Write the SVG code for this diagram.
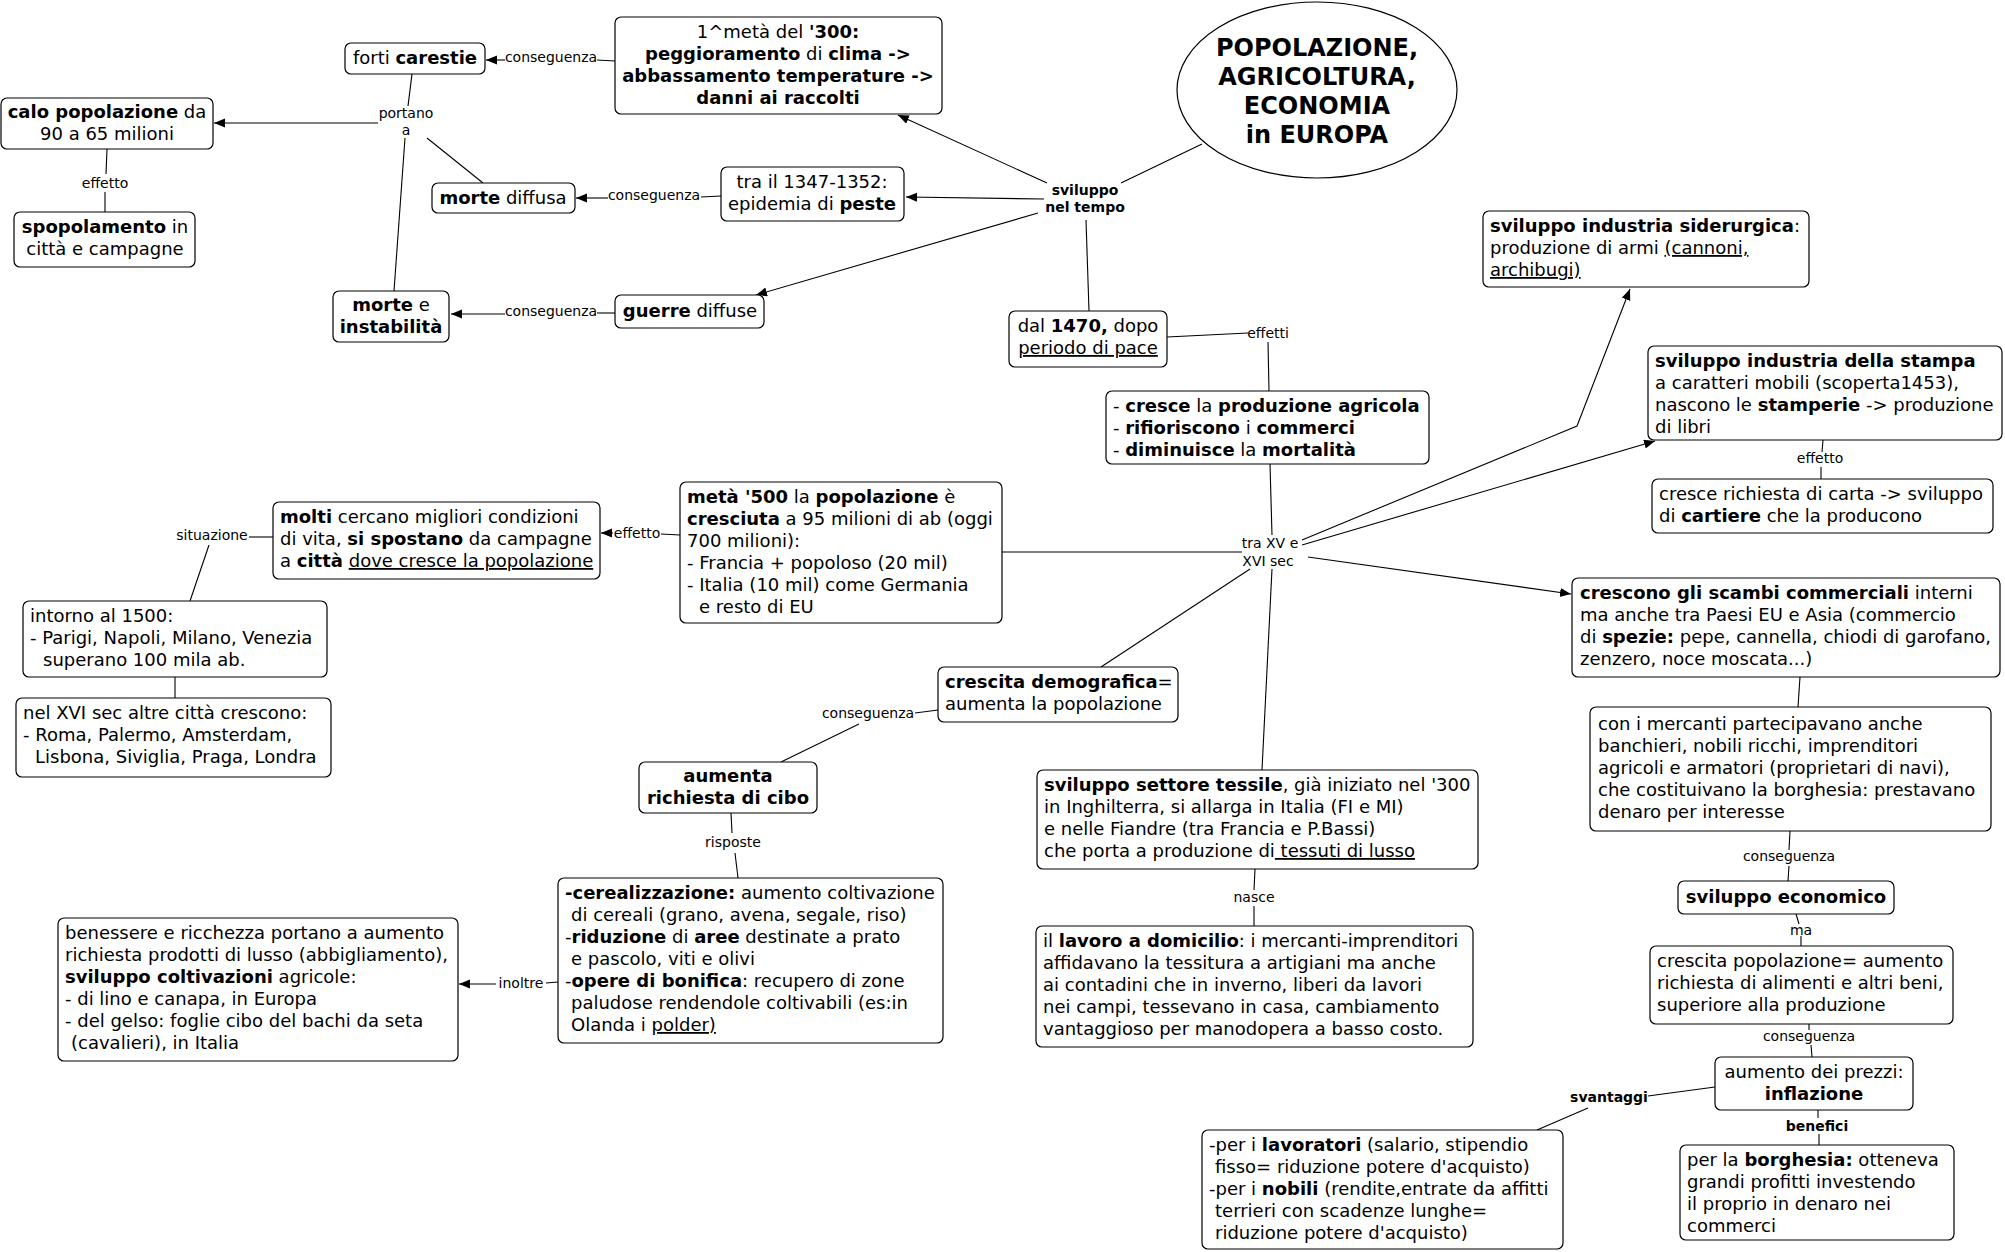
<svg xmlns="http://www.w3.org/2000/svg" width="2005" height="1252" viewBox="0 0 2005 1252">
<defs>
<marker id="arr" markerUnits="userSpaceOnUse" markerWidth="12" markerHeight="10" refX="11" refY="4.5" orient="auto">
<path d="M0,0 L11,4.5 L0,9 z" fill="#000"/>
</marker>
<style>
text{font-family:"DejaVu Sans",Verdana,sans-serif;font-size:18px;fill:#000}
.c{text-anchor:middle}
.b{font-weight:bold}
.u{text-decoration:underline}
.lbl{font-size:14px;text-anchor:middle}
.lb{font-size:14px;text-anchor:middle;font-weight:bold}
.title{font-size:24px;font-weight:bold;text-anchor:middle}
rect{fill:#fff;stroke:#000;stroke-width:1.2}
ellipse{fill:#fff;stroke:#000;stroke-width:1.2}
.ln{fill:none;stroke:#000;stroke-width:1.1}
.ar{fill:none;stroke:#000;stroke-width:1.1;marker-end:url(#arr)}
</style>
</defs>
<rect x="0" y="0" width="2005" height="1252" style="fill:#fff;stroke:none"/>

<g id="connectors">
<line class="ln" x1="615" y1="61" x2="597" y2="60"/>
<line class="ar" x1="505" y1="60" x2="486" y2="60"/>
<text class="lbl" x="551" y="62">conseguenza</text>
<line class="ln" x1="412" y1="74" x2="408" y2="106"/>
<line class="ar" x1="378" y1="123" x2="214" y2="123"/>
<line class="ln" x1="405" y1="138" x2="394" y2="291"/>
<line class="ln" x1="427" y1="138" x2="483" y2="183"/>
<text class="lbl" x="406" y="118">portano</text>
<text class="lbl" x="406" y="135">a</text>
<line class="ln" x1="107" y1="149" x2="106" y2="174"/>
<line class="ln" x1="105" y1="192" x2="105" y2="212"/>
<text class="lbl" x="105" y="188">effetto</text>
<line class="ln" x1="721" y1="196" x2="701" y2="197"/>
<line class="ar" x1="608" y1="198" x2="576" y2="198"/>
<text class="lbl" x="654" y="200">conseguenza</text>
<line class="ln" x1="615" y1="313" x2="597" y2="313"/>
<line class="ar" x1="505" y1="314" x2="451" y2="314"/>
<text class="lbl" x="551" y="316">conseguenza</text>
<line class="ln" x1="1202" y1="144" x2="1121" y2="183"/>
<line class="ar" x1="1047" y1="183" x2="898" y2="115"/>
<line class="ar" x1="1044" y1="199" x2="906" y2="197"/>
<line class="ar" x1="1038" y1="213" x2="756" y2="295"/>
<line class="ln" x1="1086" y1="220" x2="1089" y2="311"/>
<text class="lb" x="1085" y="195">sviluppo</text>
<text class="lb" x="1085" y="212">nel tempo</text>
<line class="ln" x1="1167" y1="337" x2="1248" y2="333"/>
<line class="ln" x1="1268" y1="342" x2="1269" y2="391"/>
<text class="lbl" x="1268" y="338">effetti</text>
<line class="ln" x1="1270" y1="464" x2="1272" y2="535"/>
<line class="ln" x1="1242" y1="552" x2="1002" y2="552"/>
<polyline class="ar" points="1302,540 1577,426 1630,289"/>
<line class="ar" x1="1302" y1="545" x2="1655" y2="441"/>
<line class="ar" x1="1308" y1="557" x2="1571" y2="594"/>
<line class="ln" x1="1250" y1="569" x2="1101" y2="667"/>
<line class="ln" x1="1272" y1="569" x2="1262" y2="770"/>
<text class="lbl" x="1270" y="548">tra XV e</text>
<text class="lbl" x="1268" y="566">XVI sec</text>
<line class="ln" x1="680" y1="535" x2="661" y2="534"/>
<line class="ar" x1="613" y1="533" x2="601" y2="533"/>
<text class="lbl" x="637" y="538">effetto</text>
<line class="ln" x1="273" y1="537" x2="249" y2="537"/>
<line class="ln" x1="209" y1="545" x2="190" y2="601"/>
<text class="lbl" x="212" y="540">situazione</text>
<line class="ln" x1="175" y1="677" x2="175" y2="698"/>
<line class="ln" x1="938" y1="710" x2="915" y2="713"/>
<line class="ln" x1="859" y1="724" x2="781" y2="762"/>
<text class="lbl" x="868" y="718">conseguenza</text>
<line class="ln" x1="731" y1="813" x2="732" y2="833"/>
<line class="ln" x1="735" y1="853" x2="738" y2="878"/>
<text class="lbl" x="733" y="847">risposte</text>
<line class="ln" x1="558" y1="982" x2="546" y2="983"/>
<line class="ar" x1="496" y1="984" x2="459" y2="984"/>
<text class="lbl" x="521" y="988">inoltre</text>
<line class="ln" x1="1255" y1="869" x2="1254" y2="890"/>
<line class="ln" x1="1254" y1="906" x2="1254" y2="926"/>
<text class="lbl" x="1254" y="902">nasce</text>
<line class="ln" x1="1823" y1="440" x2="1822" y2="452"/>
<line class="ln" x1="1821" y1="467" x2="1821" y2="479"/>
<text class="lbl" x="1820" y="463">effetto</text>
<line class="ln" x1="1800" y1="677" x2="1798" y2="707"/>
<line class="ln" x1="1790" y1="831" x2="1789" y2="850"/>
<line class="ln" x1="1789" y1="866" x2="1788" y2="881"/>
<text class="lbl" x="1789" y="861">conseguenza</text>
<line class="ln" x1="1796" y1="914" x2="1799" y2="924"/>
<line class="ln" x1="1801" y1="936" x2="1801" y2="946"/>
<text class="lbl" x="1801" y="935">ma</text>
<line class="ln" x1="1809" y1="1024" x2="1809" y2="1030"/>
<line class="ln" x1="1811" y1="1045" x2="1812" y2="1057"/>
<text class="lbl" x="1809" y="1041">conseguenza</text>
<line class="ln" x1="1715" y1="1087" x2="1648" y2="1096"/>
<line class="ln" x1="1588" y1="1108" x2="1537" y2="1130"/>
<text class="lb" x="1609" y="1102">svantaggi</text>
<line class="ln" x1="1818" y1="1110" x2="1818" y2="1118"/>
<line class="ln" x1="1819" y1="1134" x2="1819" y2="1145"/>
<text class="lb" x="1817" y="1131">benefici</text>
</g>

<g id="title">
<ellipse cx="1317" cy="90" rx="140" ry="88"/>
<text class="title" x="1317" y="56">POPOLAZIONE,</text>
<text class="title" x="1317" y="85">AGRICOLTURA,</text>
<text class="title" x="1317" y="114">ECONOMIA</text>
<text class="title" x="1317" y="143">in EUROPA</text>
</g>

<g id="carestie">
<rect x="345" y="43" width="140" height="31" rx="6"/>
<text class="c" x="415" y="64">forti <tspan class="b">carestie</tspan></text>
</g>

<g id="clima">
<rect x="615" y="17" width="327" height="97" rx="6"/>
<text class="c" x="778" y="38">1^metà del <tspan class="b">'300:</tspan></text>
<text class="c" x="778" y="60"><tspan class="b">peggioramento</tspan> di <tspan class="b">clima -&gt;</tspan></text>
<text class="c b" x="778" y="82">abbassamento temperature -&gt;</text>
<text class="c b" x="778" y="104">danni ai raccolti</text>
</g>

<g id="calo">
<rect x="1" y="98" width="212" height="51" rx="6"/>
<text class="c" x="107" y="118"><tspan class="b">calo popolazione</tspan> da</text>
<text class="c" x="107" y="140">90 a 65 milioni</text>
</g>

<g id="spopolamento">
<rect x="14" y="212" width="181" height="55" rx="6"/>
<text class="c" x="105" y="233"><tspan class="b">spopolamento</tspan> in</text>
<text class="c" x="105" y="255">città e campagne</text>
</g>

<g id="morte-diffusa">
<rect x="432" y="183" width="143" height="30" rx="6"/>
<text class="c" x="503" y="204"><tspan class="b">morte</tspan> diffusa</text>
</g>

<g id="morte-instabilita">
<rect x="333" y="291" width="116" height="51" rx="6"/>
<text class="c" x="391" y="311"><tspan class="b">morte</tspan> e</text>
<text class="c b" x="391" y="333">instabilità</text>
</g>

<g id="peste">
<rect x="721" y="167" width="183" height="54" rx="6"/>
<text class="c" x="812" y="188">tra il 1347-1352:</text>
<text class="c" x="812" y="210">epidemia di <tspan class="b">peste</tspan></text>
</g>

<g id="guerre">
<rect x="615" y="295" width="149" height="33" rx="6"/>
<text class="c" x="690" y="317"><tspan class="b">guerre</tspan> diffuse</text>
</g>

<g id="pace">
<rect x="1009" y="311" width="158" height="56" rx="6"/>
<text class="c" x="1088" y="332">dal <tspan class="b">1470,</tspan> dopo</text>
<text class="c u" x="1088" y="354">periodo di pace</text>
</g>

<g id="effetti-pace">
<rect x="1106" y="391" width="323" height="73" rx="6"/>
<text x="1113" y="412">- <tspan class="b">cresce</tspan> la <tspan class="b">produzione agricola</tspan></text>
<text x="1113" y="434">- <tspan class="b">rifioriscono</tspan> i <tspan class="b">commerci</tspan></text>
<text x="1113" y="456">- <tspan class="b">diminuisce</tspan> la <tspan class="b">mortalità</tspan></text>
</g>

<g id="siderurgica">
<rect x="1483" y="211" width="326" height="76" rx="6"/>
<text x="1490" y="232"><tspan class="b">sviluppo industria siderurgica</tspan>:</text>
<text x="1490" y="254">produzione di armi <tspan class="u">(cannoni,</tspan></text>
<text x="1490" y="276" class="u">archibugi)</text>
</g>

<g id="stampa">
<rect x="1648" y="346" width="354" height="94" rx="6"/>
<text x="1655" y="367" class="b">sviluppo industria della stampa</text>
<text x="1655" y="389">a caratteri mobili (scoperta1453),</text>
<text x="1655" y="411">nascono le <tspan class="b">stamperie</tspan> -&gt; produzione</text>
<text x="1655" y="433">di libri</text>
</g>

<g id="cartiere">
<rect x="1652" y="479" width="341" height="54" rx="6"/>
<text x="1659" y="500">cresce richiesta di carta -&gt; sviluppo</text>
<text x="1659" y="522">di <tspan class="b">cartiere</tspan> che la producono</text>
</g>

<g id="scambi">
<rect x="1572" y="578" width="428" height="99" rx="6"/>
<text x="1580" y="599"><tspan class="b">crescono gli scambi commerciali</tspan> interni</text>
<text x="1580" y="621">ma anche tra Paesi EU e Asia (commercio</text>
<text x="1580" y="643">di <tspan class="b">spezie:</tspan> pepe, cannella, chiodi di garofano,</text>
<text x="1580" y="665">zenzero, noce moscata...)</text>
</g>

<g id="meta500">
<rect x="680" y="482" width="322" height="141" rx="6"/>
<text x="687" y="503"><tspan class="b">metà '500</tspan> la <tspan class="b">popolazione</tspan> è</text>
<text x="687" y="525"><tspan class="b">cresciuta</tspan> a 95 milioni di ab (oggi</text>
<text x="687" y="547">700 milioni):</text>
<text x="687" y="569">- Francia + popoloso (20 mil)</text>
<text x="687" y="591">- Italia (10 mil) come Germania</text>
<text x="699" y="613">e resto di EU</text>
</g>

<g id="molti">
<rect x="273" y="502" width="327" height="77" rx="6"/>
<text x="280" y="523"><tspan class="b">molti</tspan> cercano migliori condizioni</text>
<text x="280" y="545">di vita, <tspan class="b">si spostano</tspan> da campagne</text>
<text x="280" y="567">a <tspan class="b">città</tspan> <tspan class="u">dove cresce la popolazione</tspan></text>
</g>

<g id="intorno1500">
<rect x="23" y="601" width="304" height="76" rx="6"/>
<text x="30" y="622">intorno al 1500:</text>
<text x="30" y="644">- Parigi, Napoli, Milano, Venezia</text>
<text x="43" y="666">superano 100 mila ab.</text>
</g>

<g id="xvi-sec">
<rect x="16" y="698" width="315" height="79" rx="6"/>
<text x="23" y="719">nel XVI sec altre città crescono:</text>
<text x="23" y="741">- Roma, Palermo, Amsterdam,</text>
<text x="35" y="763">Lisbona, Siviglia, Praga, Londra</text>
</g>

<g id="crescita-demografica">
<rect x="938" y="667" width="240" height="55" rx="6"/>
<text x="945" y="688"><tspan class="b">crescita demografica</tspan>=</text>
<text x="945" y="710">aumenta la popolazione</text>
</g>

<g id="richiesta-cibo">
<rect x="639" y="762" width="178" height="51" rx="6"/>
<text class="c b" x="728" y="782">aumenta</text>
<text class="c b" x="728" y="804">richiesta di cibo</text>
</g>

<g id="cerealizzazione">
<rect x="558" y="878" width="385" height="165" rx="6"/>
<text x="565" y="899"><tspan class="b">-cerealizzazione:</tspan> aumento coltivazione</text>
<text x="571" y="921">di cereali (grano, avena, segale, riso)</text>
<text x="565" y="943">-<tspan class="b">riduzione</tspan> di <tspan class="b">aree</tspan> destinate a prato</text>
<text x="571" y="965">e pascolo, viti e olivi</text>
<text x="565" y="987">-<tspan class="b">opere di bonifica</tspan>: recupero di zone</text>
<text x="571" y="1009">paludose rendendole coltivabili (es:in</text>
<text x="571" y="1031">Olanda i <tspan class="u">polder)</tspan></text>
</g>

<g id="tessile">
<rect x="1037" y="770" width="441" height="99" rx="6"/>
<text x="1044" y="791"><tspan class="b">sviluppo settore tessile</tspan>, già iniziato nel '300</text>
<text x="1044" y="813">in Inghilterra, si allarga in Italia (FI e MI)</text>
<text x="1044" y="835">e nelle Fiandre (tra Francia e P.Bassi)</text>
<text x="1044" y="857">che porta a produzione di<tspan class="u"> tessuti di lusso</tspan></text>
</g>

<g id="domicilio">
<rect x="1036" y="926" width="437" height="121" rx="6"/>
<text x="1043" y="947">il <tspan class="b">lavoro a domicilio</tspan>: i mercanti-imprenditori</text>
<text x="1043" y="969">affidavano la tessitura a artigiani ma anche</text>
<text x="1043" y="991">ai contadini che in inverno, liberi da lavori</text>
<text x="1043" y="1013">nei campi, tessevano in casa, cambiamento</text>
<text x="1043" y="1035">vantaggioso per manodopera a basso costo.</text>
</g>

<g id="benessere">
<rect x="58" y="918" width="400" height="143" rx="6"/>
<text x="65" y="939">benessere e ricchezza portano a aumento</text>
<text x="65" y="961">richiesta prodotti di lusso (abbigliamento),</text>
<text x="65" y="983"><tspan class="b">sviluppo coltivazioni</tspan> agricole:</text>
<text x="65" y="1005">- di lino e canapa, in Europa</text>
<text x="65" y="1027">- del gelso: foglie cibo del bachi da seta</text>
<text x="71" y="1049">(cavalieri), in Italia</text>
</g>

<g id="mercanti">
<rect x="1590" y="707" width="401" height="124" rx="6"/>
<text x="1598" y="730">con i mercanti partecipavano anche</text>
<text x="1598" y="752">banchieri, nobili ricchi, imprenditori</text>
<text x="1598" y="774">agricoli e armatori (proprietari di navi),</text>
<text x="1598" y="796">che costituivano la borghesia: prestavano</text>
<text x="1598" y="818">denaro per interesse</text>
</g>

<g id="sviluppo-economico">
<rect x="1678" y="881" width="216" height="33" rx="6"/>
<text class="c b" x="1786" y="903">sviluppo economico</text>
</g>

<g id="crescita-popolazione">
<rect x="1650" y="946" width="303" height="78" rx="6"/>
<text x="1657" y="967">crescita popolazione= aumento</text>
<text x="1657" y="989">richiesta di alimenti e altri beni,</text>
<text x="1657" y="1011">superiore alla produzione</text>
</g>

<g id="inflazione">
<rect x="1715" y="1057" width="198" height="53" rx="6"/>
<text class="c" x="1814" y="1078">aumento dei prezzi:</text>
<text class="c b" x="1814" y="1100">inflazione</text>
</g>

<g id="borghesia">
<rect x="1680" y="1145" width="274" height="95" rx="6"/>
<text x="1687" y="1166">per la <tspan class="b">borghesia:</tspan> otteneva</text>
<text x="1687" y="1188">grandi profitti investendo</text>
<text x="1687" y="1210">il proprio in denaro nei</text>
<text x="1687" y="1232">commerci</text>
</g>

<g id="lavoratori">
<rect x="1202" y="1130" width="361" height="119" rx="6"/>
<text x="1209" y="1151">-per i <tspan class="b">lavoratori</tspan> (salario, stipendio</text>
<text x="1215" y="1173">fisso= riduzione potere d'acquisto)</text>
<text x="1209" y="1195">-per i <tspan class="b">nobili</tspan> (rendite,entrate da affitti</text>
<text x="1215" y="1217">terrieri con scadenze lunghe=</text>
<text x="1215" y="1239">riduzione potere d'acquisto)</text>
</g>
</svg>
